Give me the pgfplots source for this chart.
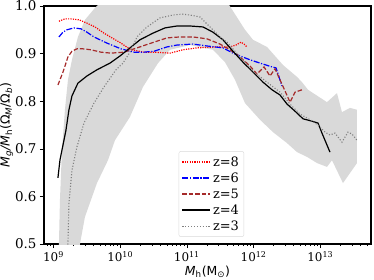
\documentclass[border=0pt]{standalone}
\usepackage{fontspec}
\setmainfont{DejaVu Serif}
\newfontfamily\dvs{DejaVu Sans}
\usepackage{pgfplots}
\pgfplotsset{compat=1.18}
\definecolor{bandgray}{RGB}{217,217,217}
\definecolor{zbrown}{RGB}{165,42,42}
\definecolor{zgray}{RGB}{128,128,128}
\begin{document}
\begin{tikzpicture}
\begin{axis}[
  scale only axis,
  width=327bp, height=238bp,
  xmin=8.858, xmax=13.760,
  ymin=0.5, ymax=1.0,
  axis line style={line width=1.3pt},
  tick pos=left, tick align=outside,
  major tick length=4bp, minor tick length=2.2bp,
  every tick/.style={black, line width=0.6pt},
  xtick={9,10,11,12,13},
  xticklabels={10\textsuperscript{9},10\textsuperscript{10},10\textsuperscript{11},10\textsuperscript{12},10\textsuperscript{13}},
  minor xtick={8.903,8.954,9.301,9.477,9.602,9.699,9.778,9.845,9.903,9.954,10.301,10.477,10.602,10.699,10.778,10.845,10.903,10.954,11.301,11.477,11.602,11.699,11.778,11.845,11.903,11.954,12.301,12.477,12.602,12.699,12.778,12.845,12.903,12.954,13.301,13.477,13.602,13.699},
  ytick={0.5,0.6,0.7,0.8,0.9,1.0},
  xticklabel style={font=\fontsize{12}{14}\selectfont},
  yticklabel style={font=\fontsize{13.5}{15}\selectfont, /pgf/number format/.cd, fixed, fixed zerofill, precision=1, assume math mode=true},
  xlabel={{\dvs\itshape M\textsubscript{\upshape h}\upshape(M\textsubscript{\upshape ⊙})}},
  ylabel={{\dvs\itshape M\textsubscript{g}/M\textsubscript{\upshape h}{\upshape(Ω}\textsubscript{M}{\upshape/Ω}\textsubscript{b}{\upshape)}}},
  label style={font=\fontsize{12.5}{14}\selectfont},
  xlabel style={yshift=3bp},
  ylabel style={yshift=-5bp},
  legend style={at={(0.612,0.03)}, anchor=south east, draw=black!15, rounded corners=2pt, fill=white, fill opacity=0.8, text opacity=1, draw opacity=1, font=\fontsize{13}{15}\selectfont, row sep=1pt, inner xsep=3pt, inner ysep=3pt},
  legend cell align=left,
  legend image code/.code={\draw[#1] plot coordinates {(0bp,0bp) (28bp,0bp)};},
]
% shaded band
\addplot[fill=bandgray, draw=none, forget plot] coordinates {
(9.082,0.45) (9.082,0.500) (9.097,0.592) (9.127,0.697) (9.172,0.782) (9.217,0.845)
(9.277,0.887) (9.367,0.935) (9.472,0.971) (9.622,0.996) (9.697,1.006) (10.597,1.055)
(11.616,1.006) (11.871,0.950) (11.991,0.929) (12.201,0.914) (12.441,0.876) (12.651,0.851)
(12.726,0.840) (12.816,0.824) (13.100,0.798) (13.250,0.817) (13.325,0.777) (13.445,0.786)
(13.550,0.782) (13.550,0.670) (13.340,0.628) (13.175,0.676) (13.100,0.662) (12.951,0.670)
(12.801,0.683) (12.651,0.693) (12.501,0.712) (12.291,0.735) (12.096,0.761) (11.871,0.796)
(11.721,0.845) (11.571,0.882) (11.391,0.908) (11.046,0.918) (10.747,0.908) (10.567,0.880)
(10.342,0.830) (10.147,0.767) (9.922,0.718) (9.817,0.676) (9.652,0.628) (9.472,0.557)
(9.397,0.500) (9.367,0.45)
};
% z=8
\addplot[red, line width=1.2pt, dash pattern=on 1.2pt off 1.2pt] coordinates {
(9.082,0.968) (9.172,0.973) (9.262,0.973) (9.382,0.971) (9.502,0.964) (9.622,0.956)
(9.757,0.943) (9.877,0.933) (10.012,0.922) (10.162,0.908) (10.357,0.903) (10.507,0.903)
(10.747,0.901) (10.942,0.908) (11.151,0.912) (11.451,0.914) (11.646,0.914) (11.736,0.918)
(11.811,0.924) (11.856,0.920) (11.901,0.914)
};
\addlegendentry{z=8}
% z=6
\addplot[blue, line width=1.2pt, dash pattern=on 6pt off 1.6pt on 1.2pt off 1.6pt] coordinates {
(9.082,0.935) (9.142,0.945) (9.202,0.950) (9.307,0.954) (9.412,0.952) (9.502,0.945)
(9.607,0.935) (9.802,0.922) (10.012,0.910) (10.207,0.903) (10.357,0.903) (10.507,0.905)
(10.702,0.914) (10.852,0.918) (11.091,0.920) (11.301,0.916) (11.541,0.912) (11.691,0.901)
(11.796,0.895) (11.946,0.887) (12.096,0.880) (12.276,0.872) (12.336,0.870) (12.426,0.832)
};
\addlegendentry{z=6}
% z=5
\addplot[zbrown, line width=1.2pt, dash pattern=on 4.5pt off 2pt] coordinates {
(9.067,0.834) (9.142,0.861) (9.217,0.893) (9.277,0.905) (9.352,0.910) (9.442,0.910)
(9.562,0.908) (9.712,0.903) (9.862,0.901) (10.057,0.903) (10.252,0.912) (10.507,0.924)
(10.702,0.933) (10.897,0.935) (11.091,0.935) (11.301,0.931) (11.496,0.920) (11.646,0.908)
(11.796,0.893) (11.946,0.874) (12.051,0.857) (12.156,0.872) (12.246,0.853) (12.321,0.868)
(12.396,0.845) (12.546,0.798) (12.621,0.819) (12.726,0.824)
};
\addlegendentry{z=5}
% z=4
\addplot[black, line width=1.2pt] coordinates {
(9.067,0.639) (9.097,0.676) (9.127,0.697) (9.187,0.739) (9.232,0.782) (9.277,0.811)
(9.367,0.838) (9.502,0.853) (9.652,0.866) (9.847,0.880) (9.997,0.895) (10.147,0.912)
(10.297,0.929) (10.492,0.943) (10.672,0.954) (10.852,0.958) (11.046,0.958) (11.241,0.956)
(11.391,0.945) (11.541,0.929) (11.691,0.905) (11.841,0.882) (12.006,0.859) (12.141,0.840)
(12.276,0.824) (12.396,0.813) (12.501,0.794) (12.621,0.779) (12.741,0.763) (12.876,0.758)
(12.966,0.754) (13.025,0.733) (13.145,0.693)
};
\addlegendentry{z=4}
% z=3
\addplot[zgray, line width=1.1pt, dash pattern=on 1.1pt off 1.8pt] coordinates {
(9.202,0.487) (9.217,0.502) (9.232,0.586) (9.277,0.655) (9.352,0.704) (9.457,0.754)
(9.607,0.796) (9.757,0.830) (9.937,0.866) (10.042,0.880) (10.147,0.903) (10.252,0.935)
(10.402,0.956) (10.597,0.975) (10.792,0.981) (10.927,0.983) (11.046,0.981) (11.196,0.977)
(11.346,0.956) (11.496,0.935) (11.601,0.924) (11.796,0.893) (12.006,0.861) (12.201,0.840)
(12.396,0.819) (12.546,0.794) (12.696,0.773) (12.846,0.761) (12.966,0.750) (13.070,0.735)
(13.145,0.729) (13.220,0.733) (13.325,0.714) (13.415,0.735) (13.475,0.731) (13.550,0.718)
};
\addlegendentry{z=3}
\end{axis}
\pgfresetboundingbox
\path[use as bounding box] ([xshift=-44bp,yshift=-36bp]current axis.south west) rectangle ([xshift=3bp,yshift=6bp]current axis.north east);
\end{tikzpicture}
\end{document}
